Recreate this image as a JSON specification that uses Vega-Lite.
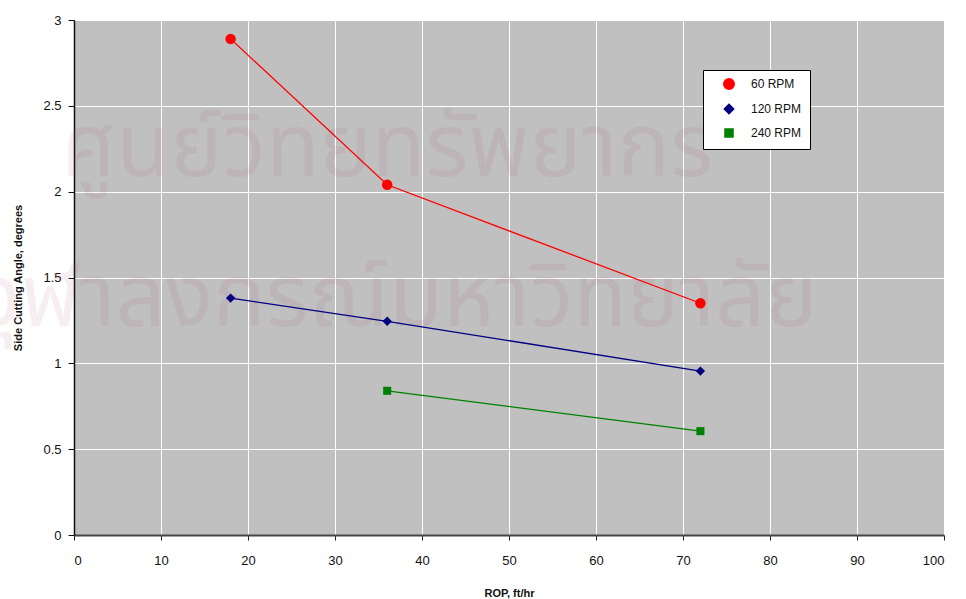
{
  "$schema": "https://vega.github.io/schema/vega-lite/v6.json",
  "width": 870,
  "height": 515,
  "autosize": {"type": "none"},
  "padding": {"left": 74, "top": 20, "right": 22, "bottom": 64},
  "background": "white",
  "config": {
    "font": "Liberation Sans",
    "view": {"fill": "#c0c0c0", "stroke": null},
    "axis": {"labelFont": "Liberation Sans", "titleFont": "Liberation Sans"}
  },
  "datasets": {
    "series": [
      {"rop": 18, "angle": 2.89, "series": "60 RPM"},
      {"rop": 36, "angle": 2.04, "series": "60 RPM"},
      {"rop": 72, "angle": 1.35, "series": "60 RPM"},
      {"rop": 18, "angle": 1.38, "series": "120 RPM"},
      {"rop": 36, "angle": 1.245, "series": "120 RPM"},
      {"rop": 72, "angle": 0.955, "series": "120 RPM"},
      {"rop": 36, "angle": 0.84, "series": "240 RPM"},
      {"rop": 72, "angle": 0.605, "series": "240 RPM"}
    ],
    "mark": [
      {"x": 36, "y": 2.24, "text": "ศูนย์วิทยทรัพยากร"},
      {"x": 37, "y": 1.37, "text": "จุฬาลงกรณ์มหาวิทยาลัย"}
    ]
  },
  "layer": [
    {
      "data": {"name": "mark"},
      "mark": {"type": "text", "fontSize": 88, "font": "Noto Sans Thai, Noto Sans, DejaVu Sans, sans-serif", "color": "#a04a70", "opacity": 0.09, "align": "center", "baseline": "middle", "clip": false},
      "encoding": {
        "x": {"field": "x", "type": "quantitative", "scale": {"domain": [0, 100]}},
        "y": {"field": "y", "type": "quantitative", "scale": {"domain": [0, 3]}},
        "text": {"field": "text"}
      }
    },
    {
      "data": {"name": "series"},
      "mark": {"type": "line", "strokeWidth": 1.3},
      "encoding": {
        "x": {"field": "rop", "type": "quantitative"},
        "y": {"field": "angle", "type": "quantitative"},
        "color": {"field": "series", "type": "nominal", "scale": {"domain": ["60 RPM", "120 RPM", "240 RPM"], "range": ["#ff0000", "#000080", "#008000"]}},
        "detail": {"field": "series"}
      }
    },
    {
      "data": {"name": "series"},
      "mark": {"type": "point", "filled": true, "opacity": 1},
      "encoding": {
        "x": {
          "field": "rop", "type": "quantitative",
          "scale": {"domain": [0, 100], "nice": false},
          "axis": {
            "values": [0, 10, 20, 30, 40, 50, 60, 70, 80, 90, 100],
            "title": "ROP, ft/hr",
            "titleFontSize": 11, "titleFontWeight": "bold", "titleColor": "#111", "titlePadding": 20,
            "labelFontSize": 13, "labelColor": "#111", "labelPadding": 14,
            "domainColor": "#444", "domainWidth": 2,
            "tickColor": "#222", "tickSize": 5,
            "grid": true, "gridColor": "white", "gridWidth": 1
          }
        },
        "y": {
          "field": "angle", "type": "quantitative",
          "scale": {"domain": [0, 3], "nice": false},
          "axis": {
            "values": [0, 0.5, 1, 1.5, 2, 2.5, 3],
            "format": "~g",
            "title": "Side Cutting Angle, degrees",
            "titleFontSize": 11, "titleFontWeight": "bold", "titleColor": "#111", "titlePadding": 19,
            "labelFontSize": 13, "labelColor": "#111", "labelPadding": 7,
            "domainColor": "#111", "domainWidth": 1.5,
            "tickColor": "#111", "tickSize": 6,
            "grid": true, "gridColor": "white", "gridWidth": 1
          }
        },
        "color": {
          "field": "series", "type": "nominal",
          "scale": {"domain": ["60 RPM", "120 RPM", "240 RPM"], "range": ["#ff0000", "#000080", "#008000"]},
          "legend": {
            "title": null,
            "orient": "none",
            "legendX": 629,
            "legendY": 50,
            "fillColor": "white",
            "strokeColor": "#000",
            "padding": 8,
            "symbolSize": 64,
            "symbolOffset": 12,
            "labelOffset": 16,
            "labelFontSize": 12,
            "labelColor": "#111",
            "rowPadding": 8,
            "labelExpr": "datum.label + '           '"
          }
        },
        "shape": {
          "field": "series", "type": "nominal",
          "scale": {"domain": ["60 RPM", "120 RPM", "240 RPM"], "range": ["circle", "diamond", "square"]},
          "legend": null
        },
        "size": {
          "field": "series", "type": "nominal",
          "scale": {"domain": ["60 RPM", "120 RPM", "240 RPM"], "range": [110, 65, 80]},
          "legend": null
        }
      }
    }
  ]
}
